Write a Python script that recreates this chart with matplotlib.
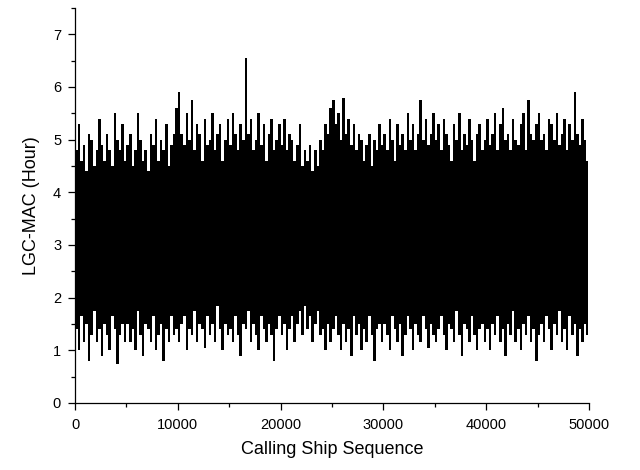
import matplotlib
matplotlib.use("Agg")
import matplotlib.pyplot as plt
from matplotlib.ticker import MultipleLocator

plt.rcParams['font.family'] = ['Liberation Sans', 'DejaVu Sans']

# Per-interval (250 ships) upper extremes of LGC-MAC
upper = [
    4.8, 5.3, 4.6, 4.9, 4.4, 5.1, 5.0, 4.5, 4.8, 5.4, 4.9, 4.6, 5.1, 4.8, 4.5, 5.5, 5.0, 4.8, 5.3, 4.6,
    4.9, 5.1, 4.5, 4.8, 5.5, 5.0, 4.6, 4.8, 4.4, 5.1, 4.9, 5.4, 4.6, 5.0, 4.8, 5.3, 4.5, 4.9, 5.1, 5.6,
    5.9, 5.1, 4.9, 5.5, 5.0, 5.75, 4.8, 5.3, 5.1, 4.6, 5.4, 4.9, 5.0, 5.5, 4.8, 5.1, 5.3, 4.6, 5.0, 5.4,
    4.9, 5.5, 5.1, 4.8, 5.3, 5.0, 6.55, 5.1, 5.4, 4.8, 5.0, 5.5, 4.9, 5.3, 4.6, 5.1, 5.4, 4.8, 5.0, 5.3,
    4.9, 5.4, 4.8, 5.1, 5.0, 4.6, 4.9, 5.3, 4.5, 4.8, 4.6, 4.9, 4.4, 4.8, 4.5, 5.0, 4.8, 5.3, 5.1, 5.6,
    5.75, 5.3, 5.5, 5.0, 5.8, 5.1, 5.4, 4.9, 5.3, 4.8, 5.1, 5.0, 4.6, 4.9, 5.1, 4.5, 5.0, 4.8, 5.3, 4.9,
    5.1, 4.8, 5.4, 5.0, 4.6, 5.3, 4.9, 5.1, 4.8, 5.5, 5.0, 5.3, 4.8, 5.1, 5.75, 5.0, 5.4, 4.9, 5.1, 5.5,
    5.0, 5.3, 4.8, 5.4, 5.1, 4.9, 4.6, 5.3, 5.0, 5.5, 4.8, 5.1, 4.9, 5.4, 5.0, 4.6, 5.1, 5.3, 4.8, 5.0,
    5.4, 4.9, 5.1, 5.5, 4.8, 5.3, 5.6, 5.0, 5.1, 4.8, 5.4, 5.0, 4.9, 5.3, 5.5, 4.8, 5.75, 5.1, 5.0, 5.3,
    5.5, 5.0, 5.1, 4.8, 5.4, 5.3, 5.0, 5.5, 4.9, 5.1, 5.4, 4.8, 5.3, 5.0, 5.9, 5.1, 4.9, 5.4, 5.0, 4.6,
]

# Per-interval (250 ships) lower extremes of LGC-MAC
lower = [
    1.4, 1.0, 1.65, 1.15, 1.5, 0.8, 1.3, 1.75, 1.15, 1.4, 0.9, 1.5, 1.3, 1.0, 1.65, 1.4, 0.75, 1.3, 1.5, 1.15,
    1.5, 1.15, 1.4, 1.0, 1.75, 1.3, 0.9, 1.5, 1.4, 1.15, 1.65, 1.0, 1.3, 1.5, 0.8, 1.4, 1.15, 1.65, 1.3, 1.4,
    1.15, 1.5, 1.65, 1.0, 1.4, 1.3, 1.75, 1.15, 1.5, 1.4, 1.05, 1.65, 1.3, 1.5, 1.15, 1.85, 1.4, 1.0, 1.5, 1.3,
    1.4, 1.15, 1.65, 1.3, 0.9, 1.5, 1.4, 1.75, 1.15, 1.5, 1.3, 1.0, 1.65, 1.4, 1.15, 1.5, 1.3, 0.8, 1.4, 1.65,
    1.3, 1.5, 1.0, 1.4, 1.65, 1.15, 1.5, 1.75, 1.3, 1.85, 1.4, 1.65, 1.15, 1.5, 1.75, 1.3, 1.4, 1.0, 1.5, 1.15,
    1.4, 1.65, 1.3, 1.0, 1.5, 1.15, 1.4, 0.9, 1.65, 1.3, 1.5, 1.0, 1.4, 1.15, 1.65, 1.3, 0.8, 1.4, 1.5, 1.15,
    1.5, 1.3, 1.0, 1.65, 1.4, 1.15, 1.5, 0.9, 1.3, 1.65, 1.4, 1.0, 1.5, 1.3, 1.15, 1.65, 1.4, 1.05, 1.5, 1.3,
    1.15, 1.4, 1.65, 1.3, 1.0, 1.5, 1.4, 1.15, 1.75, 1.3, 0.9, 1.5, 1.4, 1.15, 1.65, 1.3, 1.0, 1.4, 1.5, 1.15,
    1.4, 1.0, 1.5, 1.3, 1.65, 1.15, 1.4, 0.9, 1.5, 1.3, 1.75, 1.15, 1.4, 1.0, 1.5, 1.3, 1.65, 1.15, 1.4, 0.8,
    1.3, 1.5, 1.15, 1.65, 1.4, 1.0, 1.5, 1.3, 1.75, 1.15, 1.4, 1.0, 1.65, 1.3, 1.5, 0.9, 1.4, 1.15, 1.5, 1.3,
]

step = 250
seq_x = [i * step + step / 2 for i in range(len(upper))]

fig = plt.figure(figsize=(6.4, 4.7), dpi=100)
ax = fig.add_axes([75 / 640, 67 / 470, 514 / 640, 395 / 470])

# the dense series renders as the band between its per-interval extremes
ax.fill_between(seq_x, lower, upper, step='mid', color='black', linewidth=0)

ax.set_xlim(0, 50000)
ax.set_ylim(0, 7.5)
ax.xaxis.set_major_locator(MultipleLocator(10000))
ax.xaxis.set_minor_locator(MultipleLocator(5000))
ax.yaxis.set_major_locator(MultipleLocator(1))
ax.yaxis.set_minor_locator(MultipleLocator(0.5))

for s in ['top', 'right']:
    ax.spines[s].set_visible(False)
for s in ['left', 'bottom']:
    ax.spines[s].set_linewidth(0.9)

ax.tick_params(axis='both', which='major', direction='out', length=5, width=0.9,
               labelsize=10.5, colors='black')
ax.tick_params(axis='both', which='minor', direction='out', length=3, width=0.9)
ax.tick_params(axis='x', which='major', pad=6)
ax.tick_params(axis='y', which='major', pad=5)

ax.set_xlabel('Calling Ship Sequence', fontsize=13, labelpad=6)
ax.set_ylabel('LGC-MAC (Hour)', fontsize=13, labelpad=9)

fig.savefig('out.png', dpi=100)
